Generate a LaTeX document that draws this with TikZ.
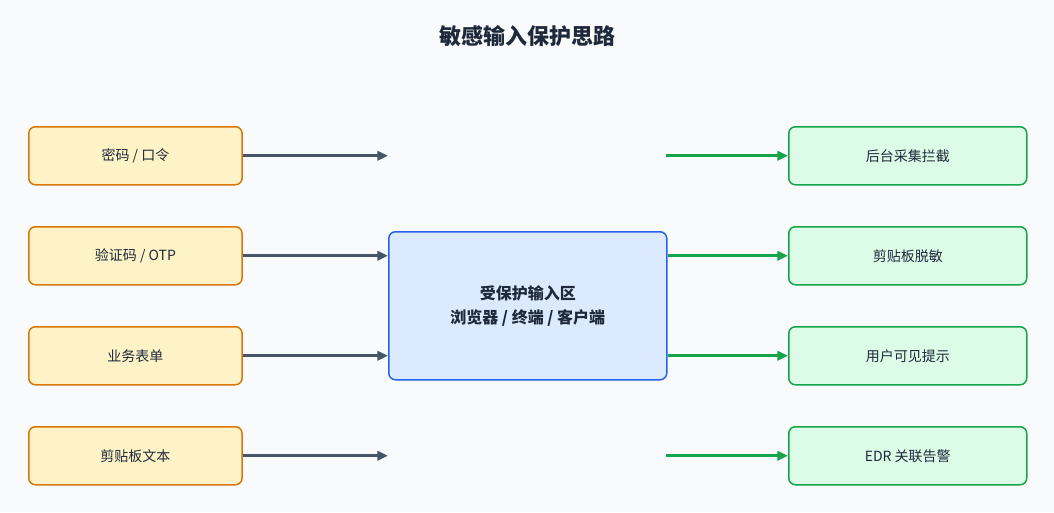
\documentclass[tikz,border=0pt]{standalone}
\usepackage{fontspec}
\setmainfont{Noto Sans CJK SC}
\usetikzlibrary{arrows.meta}
\definecolor{bg}{HTML}{F8FAFC}
\definecolor{inF}{HTML}{FEF3C7}\definecolor{inD}{HTML}{D97706}
\definecolor{outF}{HTML}{DCFCE7}\definecolor{outD}{HTML}{16A34A}
\definecolor{cF}{HTML}{DBEAFE}\definecolor{cD}{HTML}{2563EB}
\definecolor{ar}{HTML}{475569}\definecolor{tx}{HTML}{1E293B}
\begin{document}
\begin{tikzpicture}[x=0.75pt,y=-0.75pt,
 box/.style={draw,line width=1.5pt*0.75,rounded corners=5pt,minimum width=160pt,minimum height=43.5pt,font=\fontsize{10.5}{12}\selectfont,text=tx,anchor=north west},
 inb/.style={box,fill=inF,draw=inD},
 outb/.style={box,fill=outF,draw=outD,minimum width=178.5pt},
 ain/.style={draw=ar,line width=1.9pt,-{Triangle[length=8pt,width=7pt]}},
 aout/.style={draw=outD,line width=1.9pt,-{Triangle[length=8pt,width=7pt]}}]
\fill[bg] (0,0) rectangle (1054,512);
\node[font=\fontsize{16.5}{18}\selectfont\bfseries,text=tx] (t) at (527,36) {敏感输入保护思路};
\node[inb] (a1) at (28,126) {密码 / 口令};
\node[inb] (a2) at (28,226) {验证码 / OTP};
\node[inb] (a3) at (28,326) {业务表单};
\node[inb] (a4) at (28,426) {剪贴板文本};
\node[outb] (b1) at (788,126) {后台采集拦截};
\node[outb] (b2) at (788,226) {剪贴板脱敏};
\node[outb] (b3) at (788,326) {用户可见提示};
\node[outb] (b4) at (788,426) {EDR 关联告警};
\node[draw=cD,fill=cF,line width=1.5pt*0.75,rounded corners=5pt,minimum width=208.5pt,minimum height=111pt,anchor=north west,align=center,font=\fontsize{12}{18}\selectfont\bfseries,text=tx] (c) at (388,231) {受保护输入区\\浏览器 / 终端 / 客户端};
\coordinate (l1) at (388,155);\coordinate (l4) at (388,455);
\coordinate (r1) at (666,155);\coordinate (r4) at (666,455);
\draw[ain] (a1.east) -- (a1.east-|l1);
\draw[ain] (a2.east) -- (c.west|-a2.east);
\draw[ain] (a3.east) -- (c.west|-a3.east);
\draw[ain] (a4.east) -- (a4.east-|l4);
\draw[aout] (r1|-b1.west) -- (b1.west);
\draw[aout] (c.east|-b2.west) -- (b2.west);
\draw[aout] (c.east|-b3.west) -- (b3.west);
\draw[aout] (r4|-b4.west) -- (b4.west);
\end{tikzpicture}
\end{document}
